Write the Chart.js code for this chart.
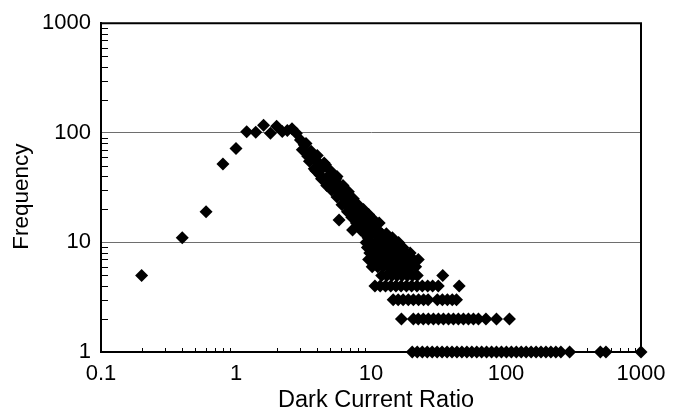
<!DOCTYPE html>
<html>
<head>
<meta charset="utf-8">
<title>Dark Current Ratio</title>
<script src="https://cdn.jsdelivr.net/npm/chart.js@4.4.1/dist/chart.umd.min.js"></script>
<style>
  html, body { margin: 0; padding: 0; background: #fff; }
  #wrap { width: 686px; height: 413px; }
</style>
</head>
<body>
<div id="wrap"><canvas id="chart" width="686" height="413"></canvas></div>
<script>
// rising side and peak of the distribution
const peakRatio = [0.2, 0.4, 0.6, 0.8, 1.0, 1.2, 1.4, 1.6, 1.8, 2.0, 2.2, 2.4, 2.6, 2.8];
const peakFreq  = [5, 11, 19, 52, 72, 102, 101, 117, 99, 115, 103, 105, 109, 99];

// falling band between ~3 and ~14
const bandRatio = [3.0, 3.1, 3.2, 3.4, 3.5, 3.7, 3.8, 4.0, 4.1, 4.2, 4.4, 4.6, 4.8, 5.0, 5.2, 5.4, 5.5, 5.6, 5.8, 5.8,
                   6.0, 6.2, 6.4, 6.6, 6.8, 7.0, 7.2, 7.4, 7.6, 7.8, 8.0, 8.2, 8.4, 8.6, 8.8, 9.0, 9.2, 9.4, 9.6, 9.8,
                   10.0, 10.4, 10.8, 11.2, 11.6, 12.0, 12.5, 13.0, 13.6, 14.4];
const bandFreq  = [86, 70, 78, 61, 66, 59, 47, 55, 46, 41, 48, 51, 40, 37, 42, 33, 38, 35, 28, 16,
                   31, 26, 28, 22, 25, 21, 23, 19, 21, 18, 20, 16, 18, 15, 17, 14, 16, 13, 15, 12,
                   14, 13, 12, 13, 11, 12, 11, 12, 11, 11];

// scatter on both sides of the band
const spreadRatio = [3.3, 3.6, 4.0, 4.5, 5.0, 5.6, 6.2, 6.8, 7.4, 8.0, 8.8, 9.6, 10.5, 11.5,
                     3.5, 3.9, 4.3, 4.7, 5.1, 5.6, 6.1, 6.7, 7.2, 7.3, 7.8, 8.4, 9.0, 9.5];
const spreadFreq  = [80, 68, 62, 53, 45, 40, 33, 29, 25, 22, 20, 18, 16, 15,
                     55, 45, 38, 33, 30, 26, 22, 19, 17, 13, 15, 13, 12, 11];

// low counts: ratios that occurred exactly n times
const freq10 = [9.2, 10, 10.8, 11.6, 12.6, 13.6, 14.8, 16];
const freq9  = [9.4, 10.3, 11.2, 12.2, 13.3, 14.5, 15.8, 17.2];
const freq8  = [9.8, 10.8, 11.8, 12.9, 14, 15.3, 16.7, 18.2, 19.5];
const freq7  = [9.6, 10.6, 11.6, 12.8, 14, 15.4, 17, 18.8, 20.6, 22.4];
const freq6  = [10.2, 11.2, 12.3, 13.5, 14.8, 16.2, 17.8, 19.5, 21.4];
const freq5  = [12, 13.1, 14.3, 15.6, 17, 18.6, 20.3, 22, 34];
const freq4  = [10.7, 11.7, 12.8, 14, 15.3, 16.7, 18.3, 20, 21.9, 24, 26.3, 28.6, 31.5, 45];
const freq3  = [14.6, 15.9, 17.3, 18.9, 20.6, 22.5, 24.5, 26.5, 31, 33.8, 36.8, 40, 43];
const freq2  = [16.8, 20.6, 22.4, 24.4, 26.6, 29, 31.6, 34.4, 37.5, 40.8, 44.4, 48.4, 52.7, 57.4, 62.5, 71, 85, 106];
const freq1  = [20.2, 22, 24, 26.1, 28.4, 30.9, 33.6, 36.6, 39.8, 43.3, 47.1, 51.3, 55.8, 60.7, 66, 71.8, 78.2,
                85, 92.5, 100.7, 109.6, 119.2, 129.7, 141, 153.5, 167, 181.7, 197.7, 215, 234, 255, 296, 500, 550, 1000];

const xTickLabels = [0.1, 1, 10, 100, 1000];
const yTickLabels = [1, 10, 100, 1000];
const xTitle = 'Dark Current Ratio';
const yTitle = 'Frequency';

const points = [];
peakRatio.forEach((r, i) => points.push({ x: r, y: peakFreq[i] }));
bandRatio.forEach((r, i) => points.push({ x: r, y: bandFreq[i] }));
spreadRatio.forEach((r, i) => points.push({ x: r, y: spreadFreq[i] }));
[freq1, freq2, freq3, freq4, freq5, freq6, freq7, freq8, freq9, freq10].forEach((row, i) => {
  row.forEach(r => points.push({ x: r, y: i + 1 }));
});

const FONT = "'Liberation Sans', Arial, sans-serif";

// minor ticks pointing into the plot, top/right frame and the two axis titles
const framePlugin = {
  id: 'frame',
  beforeDatasetsDraw(chart) {
    const { ctx, chartArea: a, scales } = chart;
    ctx.save();
    ctx.strokeStyle = '#000';
    ctx.lineWidth = 1;
    ctx.beginPath();
    [1, 10, 100].forEach(d => {
      for (let m = 2; m <= 9; m++) {
        const y = Math.round(scales.y.getPixelForValue(m * d)) + 0.5;
        ctx.moveTo(a.left, y);
        ctx.lineTo(a.left + 7, y);
      }
    });
    [0.1, 1, 10, 100].forEach(d => {
      for (let m = 2; m <= 9; m++) {
        const x = Math.round(scales.x.getPixelForValue(m * d)) + 0.5;
        ctx.moveTo(x, a.bottom);
        ctx.lineTo(x, a.bottom - 4);
      }
    });
    ctx.stroke();
    ctx.lineWidth = 2;
    ctx.beginPath();
    ctx.moveTo(a.left, a.top);
    ctx.lineTo(a.right, a.top);
    ctx.lineTo(a.right, a.bottom);
    ctx.stroke();
    ctx.restore();
  },
  afterDraw(chart) {
    const { ctx, chartArea: a } = chart;
    ctx.save();
    ctx.fillStyle = '#000';
    ctx.textAlign = 'center';
    ctx.font = '23.5px ' + FONT;
    ctx.textBaseline = 'alphabetic';
    ctx.fillText(xTitle, (a.left + a.right) / 2 + 5, 407);
    ctx.font = '22.5px ' + FONT;
    ctx.textBaseline = 'middle';
    ctx.translate(22, (a.top + a.bottom) / 2 + 9);
    ctx.rotate(-Math.PI / 2);
    ctx.fillText(yTitle, 0, 0);
    ctx.restore();
  }
};

const isDecade = v => Math.abs(Math.log10(v) - Math.round(Math.log10(v))) < 1e-6;

new Chart(document.getElementById('chart').getContext('2d'), {
  type: 'scatter',
  data: {
    datasets: [{
      data: points,
      pointStyle: 'rectRot',
      pointRadius: 6.5,
      pointBorderWidth: 0,
      backgroundColor: '#000',
      borderColor: '#000',
      clip: false
    }]
  },
  options: {
    responsive: false,
    animation: false,
    layout: { padding: { left: 0, right: 45, top: 18, bottom: 0 } },
    plugins: { legend: { display: false }, tooltip: { enabled: false } },
    scales: {
      x: {
        type: 'logarithmic',
        min: 0.1,
        max: 1000,
        afterFit: s => { s.height = 61; },
        afterBuildTicks: s => { s.ticks = xTickLabels.map(v => ({ value: v })); },
        grid: { display: false, drawTicks: false },
        border: { display: true, color: '#000', width: 2 },
        ticks: {
          autoSkip: false,
          maxRotation: 0,
          padding: 9,
          color: '#000',
          font: { family: FONT, size: 22 },
          callback: v => (isDecade(v) ? String(v) : '')
        }
      },
      y: {
        type: 'logarithmic',
        min: 1,
        max: 1000,
        afterFit: s => { s.width = 101; },
        afterBuildTicks: s => { s.ticks = yTickLabels.map(v => ({ value: v })); },
        grid: {
          drawTicks: false,
          lineWidth: 1,
          color: c => (c.tick && (c.tick.value === 10 || c.tick.value === 100) ? '#6e6e6e' : 'rgba(0,0,0,0)')
        },
        border: { display: true, color: '#000', width: 2 },
        ticks: {
          autoSkip: false,
          padding: 10,
          color: '#000',
          font: { family: FONT, size: 22 },
          callback: v => (isDecade(v) ? String(v) : '')
        }
      }
    }
  },
  plugins: [framePlugin]
});
</script>
</body>
</html>
